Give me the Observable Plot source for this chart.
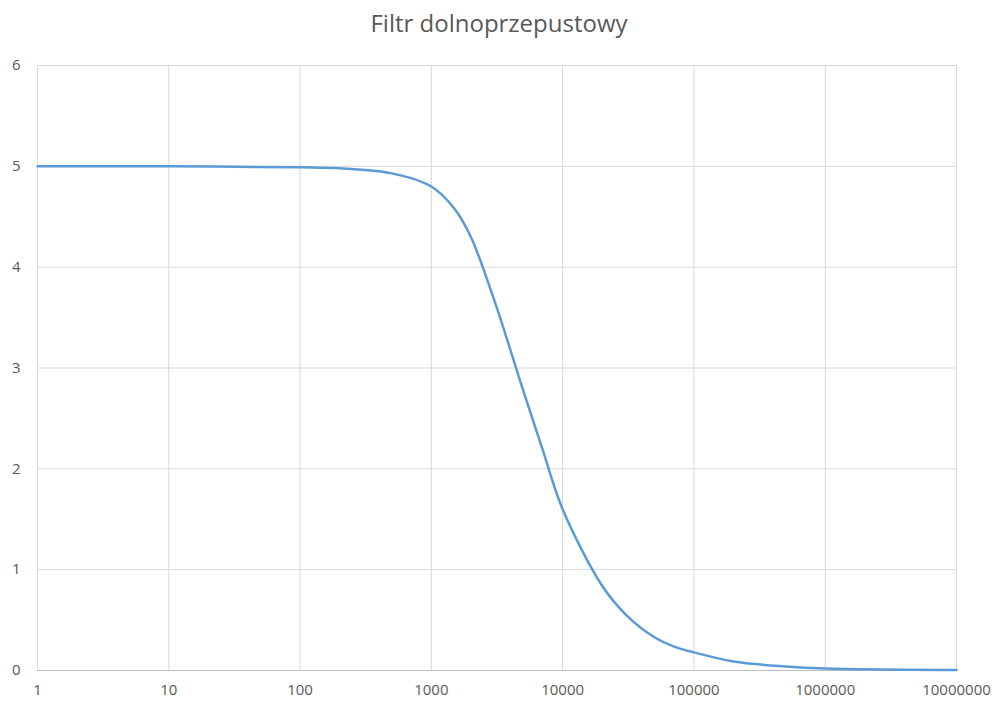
<!DOCTYPE html>
<html>
<head>
<meta charset="utf-8">
<script src="https://cdn.jsdelivr.net/npm/d3@7"></script>
<script src="https://cdn.jsdelivr.net/npm/@observablehq/plot@0.6"></script>
<style>
  html, body { margin: 0; padding: 0; background: #fff; }
  #title { height: 48px; line-height: 46px; text-align: center; font-family: "Open Sans", sans-serif; font-size: 24px; color: #595959; width: 998px; }
</style>
</head>
<body>
<div id="title">Filtr dolnoprzepustowy</div>
<div id="chart"></div>
<script>
const frequencies = [1, 10, 100, 200, 500, 1000, 1500, 2000, 3000, 5000, 7000, 10000, 20000, 30000, 50000, 70000, 100000, 200000, 500000, 1000000, 10000000];
const amplitudes  = [5.0, 5.0, 4.99, 4.98, 4.93, 4.80, 4.58, 4.30, 3.68, 2.78, 2.2, 1.6, 0.84, 0.56, 0.33, 0.24, 0.18, 0.09, 0.04, 0.02, 0.005];
const xTicks = [1, 10, 100, 1000, 10000, 100000, 1000000, 10000000];
const yTicks = [0, 1, 2, 3, 4, 5, 6];

const data = frequencies.map((f, i) => ({f, a: amplitudes[i]}));

const chart = Plot.plot({
  width: 998,
  height: 656,
  marginTop: 17,
  marginBottom: 34,
  marginLeft: 37,
  marginRight: 42,
  style: {fontFamily: "'Open Sans', sans-serif", fontSize: "15px", color: "#595959", background: "#fff"},
  x: {type: "log", domain: [1, 10000000], ticks: xTicks, tickFormat: d => String(d), tickSize: 0, tickPadding: 14, label: null},
  y: {domain: [0, 6], ticks: yTicks, tickFormat: d => String(d), tickSize: 0, tickPadding: 17, label: null},
  marks: [
    Plot.gridX(xTicks, {stroke: "#d9d9d9", strokeOpacity: 1, strokeWidth: 1}),
    Plot.gridY(yTicks, {stroke: "#d9d9d9", strokeOpacity: 1, strokeWidth: 1}),
    Plot.ruleY([0], {stroke: "#bfbfbf", strokeWidth: 1}),
    Plot.line(data, {x: "f", y: "a", stroke: "#5b9bd5", strokeWidth: 2.5, curve: "catmull-rom"}),
    Plot.axisX(xTicks, {tickSize: 0, tickPadding: 14, tickFormat: d => String(d), fill: "#595959", fontSize: 15, label: null}),
    Plot.axisY(yTicks, {tickSize: 0, tickPadding: 17, tickFormat: d => String(d), fill: "#595959", fontSize: 15, label: null})
  ]
});
document.getElementById("chart").appendChild(chart);
</script>
</body>
</html>
